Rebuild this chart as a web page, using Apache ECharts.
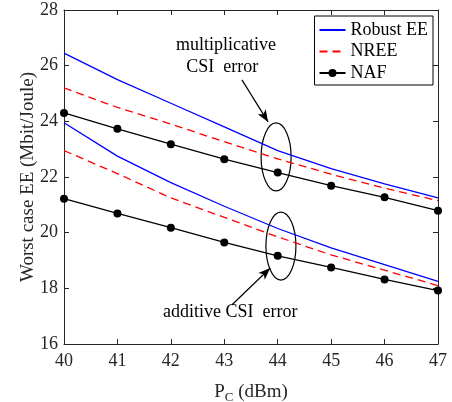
<!DOCTYPE html>
<html>
<head>
<meta charset="utf-8">
<script src="https://cdn.jsdelivr.net/npm/echarts@6/dist/echarts.min.js"></script>
<style>
html, body { margin: 0; padding: 0; background: #fff; }
#main { width: 452px; height: 402px; }
</style>
</head>
<body>
<div id="main"></div>
<script>
var myChart = echarts.init(document.getElementById('main'));

// P_C (dBm)
var pc = [40, 41, 42, 43, 44, 45, 46, 47];
var yTicks = [16, 18, 20, 22, 24, 26, 28];

// multiplicative CSI error
var robustMul = [26.45, 25.5, 24.65, 23.8, 22.95, 22.3, 21.75, 21.25];
var nreeMul = [25.2, 24.5, 23.9, 23.27, 22.65, 22.1, 21.6, 21.15];
var nafMul = [24.3, 23.73, 23.18, 22.64, 22.16, 21.69, 21.27, 20.79];

// additive CSI error
var robustAdd = [23.95, 22.75, 21.8, 20.95, 20.15, 19.45, 18.85, 18.25];
var nreeAdd = [22.95, 22.12, 21.25, 20.55, 19.85, 19.2, 18.65, 18.1];
var nafAdd = [21.22, 20.69, 20.18, 19.65, 19.17, 18.75, 18.32, 17.92];

var font = 'Liberation Serif';
var ink = '#262626';

function pairs(vals) {
    return pc.map(function (x, i) { return [x, vals[i]]; });
}

function lineSeries(name, vals, color, dashed, marker) {
    return {
        name: name,
        type: 'line',
        data: pairs(vals),
        symbol: marker ? 'circle' : 'none',
        symbolSize: 8,
        showSymbol: marker,
        itemStyle: { color: color },
        lineStyle: {
            color: color,
            width: 1.3,
            type: dashed ? [8, 5] : 'solid'
        },
        silent: true
    };
}

var baseAxis = {
    axisLine: { show: true, lineStyle: { color: ink, width: 1 } },
    axisTick: { show: true, inside: true, length: 5, lineStyle: { color: ink } },
    splitLine: { show: false }
};

var option = {
    animation: false,
    backgroundColor: '#fff',
    grid: { left: 64, right: 14, top: 10, bottom: 58, outerBoundsMode: 'none', containLabel: false },
    legend: {
        data: [
            { name: 'Robust EE', itemStyle: { opacity: 0 } },
            { name: 'NREE', itemStyle: { opacity: 0 } },
            { name: 'NAF' }
        ],
        orient: 'vertical',
        right: 19,
        top: 16,
        itemWidth: 26,
        itemHeight: 10,
        itemGap: 1.5,
        padding: [4, 5, 2, 4],
        borderColor: '#000',
        borderWidth: 1,
        backgroundColor: '#fff',
        selectedMode: false,
        textStyle: { fontFamily: font, fontSize: 18, lineHeight: 20, color: '#000' }
    },
    xAxis: [
        Object.assign({}, baseAxis, {
            type: 'value', min: 40, max: 47, interval: 1,
            position: 'bottom',
            name: '{a|P}{s|C}{a| (dBm)}',
            nameLocation: 'middle',
            nameGap: 37,
            nameMoveOverlap: false,
            nameTextStyle: {
                rich: {
                    a: { fontFamily: font, fontSize: 19, color: ink },
                    s: { fontFamily: font, fontSize: 13, color: ink, padding: [10, 0, 0, 0] }
                }
            },
            axisLabel: { fontFamily: font, fontSize: 18, color: ink, margin: 8 }
        }),
        Object.assign({}, baseAxis, {
            type: 'value', min: 40, max: 47, interval: 1,
            position: 'top',
            axisLabel: { show: false }
        })
    ],
    yAxis: [
        Object.assign({}, baseAxis, {
            type: 'value', min: yTicks[0], max: yTicks[yTicks.length - 1], interval: 2,
            position: 'left',
            name: 'Worst case EE (Mbit/Joule)',
            nameLocation: 'middle',
            nameGap: 26,
            nameMoveOverlap: false,
            nameTextStyle: { fontFamily: font, fontSize: 19, color: ink },
            axisLabel: { fontFamily: font, fontSize: 18, color: ink, margin: 6 }
        }),
        Object.assign({}, baseAxis, {
            type: 'value', min: yTicks[0], max: yTicks[yTicks.length - 1], interval: 2,
            position: 'right',
            axisLabel: { show: false }
        })
    ],
    series: [
        lineSeries('Robust EE', robustMul, '#0000ff', false, false),
        lineSeries('NREE', nreeMul, '#ff0000', true, false),
        lineSeries('NAF', nafMul, '#000000', false, true),
        lineSeries('Robust EE', robustAdd, '#0000ff', false, false),
        lineSeries('NREE', nreeAdd, '#ff0000', true, false),
        lineSeries('NAF', nafAdd, '#000000', false, true),
        {
            name: 'arrows',
            type: 'line',
            data: [],
            silent: true,
            markLine: {
                silent: true,
                symbol: ['none', 'arrow'],
                symbolSize: [7, 12],
                label: { show: false },
                lineStyle: { color: '#000', width: 1.2, type: 'solid' },
                data: [
                    [{ coord: [43.33, 25.49] }, { coord: [43.82, 23.98] }],
                    [{ coord: [43.14, 17.4] }, { coord: [43.86, 18.73] }]
                ]
            }
        }
    ]
};

myChart.setOption(option);

// ellipses and notes placed in data coordinates
function px(x, y) {
    return myChart.convertToPixel({ xAxisIndex: 0, yAxisIndex: 0 }, [x, y]);
}
var e1 = px(43.97, 22.72);
var e2 = px(44.06, 19.52);
var t1 = px(43.03, 26.74);
var t2 = px(42.96, 25.95);
var t3 = px(43.11, 17.15);

function note(p, text) {
    return {
        type: 'text', x: p[0], y: p[1], silent: true,
        style: {
            text: text, fontFamily: font, fontSize: 18, fill: '#000',
            align: 'center', verticalAlign: 'middle'
        }
    };
}
function ellipse(p) {
    return {
        type: 'ellipse', silent: true,
        shape: { cx: p[0], cy: p[1], rx: 15, ry: 34 },
        style: { fill: 'none', stroke: '#000', lineWidth: 1.2 }
    };
}

myChart.setOption({
    graphic: [
        ellipse(e1), ellipse(e2),
        note(t1, 'multiplicative'),
        note(t2, 'CSI  error'),
        note(t3, 'additive CSI  error')
    ]
});
</script>
</body>
</html>
